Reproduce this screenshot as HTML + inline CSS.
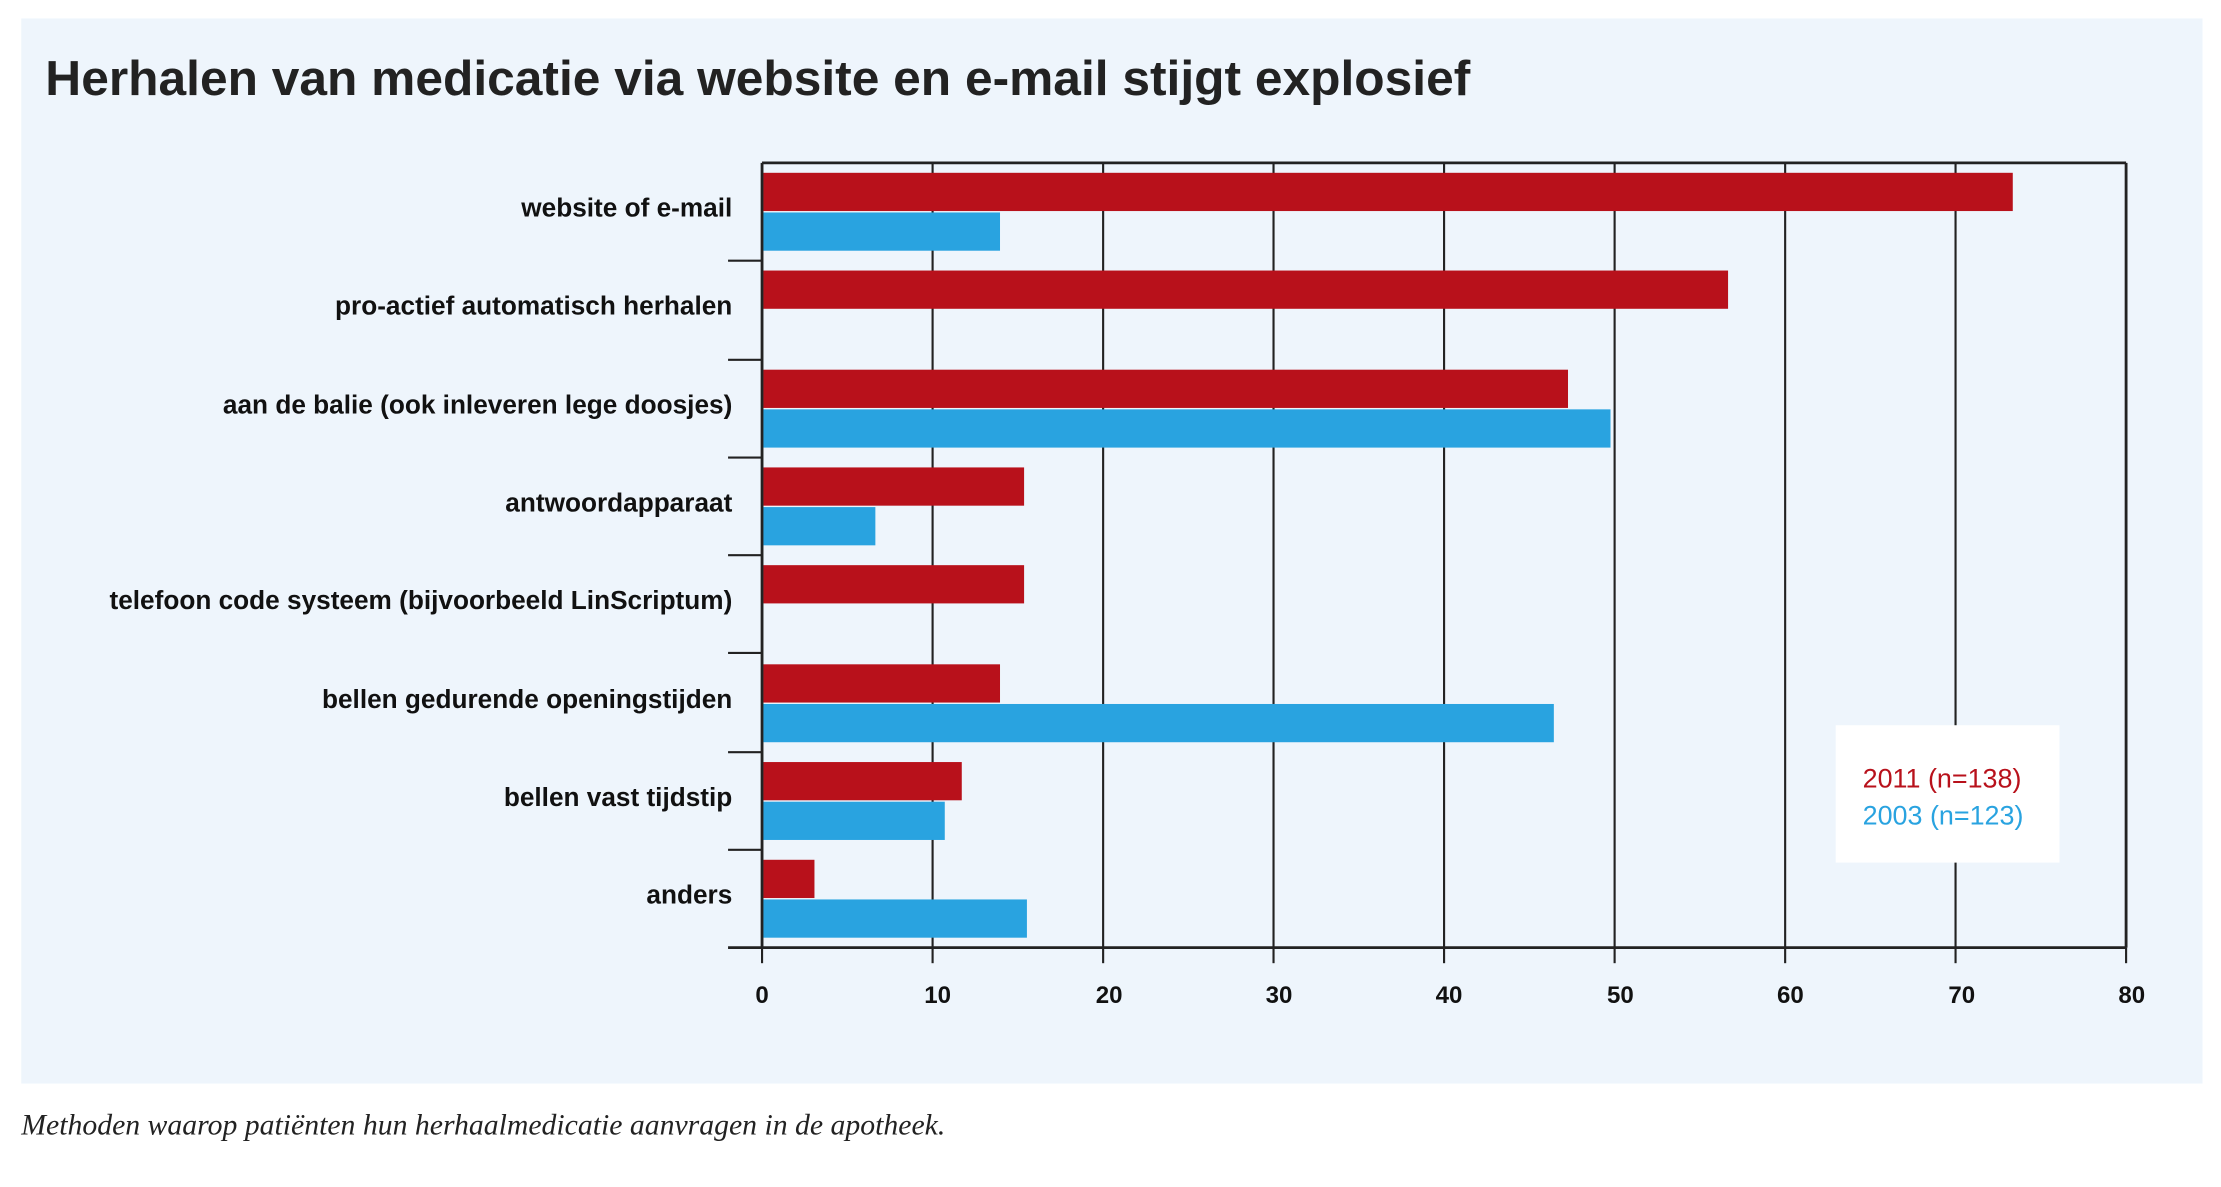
<!DOCTYPE html>
<html><head><meta charset="utf-8"><style>
html,body{margin:0;padding:0;background:#fff;}
body{width:2221px;height:1180px;overflow:hidden;position:relative;}
#w{position:absolute;left:0;top:0;width:1568px;height:833px;transform:scale(1.41645);transform-origin:0 0;font-family:"Liberation Sans",sans-serif;}
</style></head><body><div id="w">
<svg width="1568" height="833" viewBox="0 0 1568 833" xmlns="http://www.w3.org/2000/svg" font-family="Liberation Sans, sans-serif">
<rect x="15" y="13" width="1540" height="752" fill="#eef5fc"/>
<text x="32" y="67" font-size="35" font-weight="bold" fill="#222" textLength="1006" lengthAdjust="spacingAndGlyphs">Herhalen van medicatie via website en e-mail stijgt explosief</text>
<g stroke="#222" stroke-width="1.5">
<line x1="658.4" y1="115" x2="658.4" y2="669"/><line x1="778.8" y1="115" x2="778.8" y2="669"/>
<line x1="899.1" y1="115" x2="899.1" y2="669"/><line x1="1019.5" y1="115" x2="1019.5" y2="669"/>
<line x1="1139.9" y1="115" x2="1139.9" y2="669"/><line x1="1260.3" y1="115" x2="1260.3" y2="669"/>
<line x1="1380.6" y1="115" x2="1380.6" y2="669"/>
<line x1="538" y1="115" x2="1501" y2="115" stroke-width="2"/>
<line x1="1501" y1="115" x2="1501" y2="669" stroke-width="2"/>
<line x1="538" y1="115" x2="538" y2="669" stroke-width="2"/>
<line x1="514" y1="669" x2="1501" y2="669" stroke-width="2"/>
<line x1="514" y1="184" x2="538" y2="184"/><line x1="514" y1="254" x2="538" y2="254"/>
<line x1="514" y1="323" x2="538" y2="323"/><line x1="514" y1="392" x2="538" y2="392"/>
<line x1="514" y1="461" x2="538" y2="461"/><line x1="514" y1="531" x2="538" y2="531"/>
<line x1="514" y1="600" x2="538" y2="600"/>
<line x1="538" y1="669" x2="538" y2="680"/><line x1="658.4" y1="669" x2="658.4" y2="680"/>
<line x1="778.8" y1="669" x2="778.8" y2="680"/><line x1="899.1" y1="669" x2="899.1" y2="680"/>
<line x1="1019.5" y1="669" x2="1019.5" y2="680"/><line x1="1139.9" y1="669" x2="1139.9" y2="680"/>
<line x1="1260.3" y1="669" x2="1260.3" y2="680"/><line x1="1380.6" y1="669" x2="1380.6" y2="680"/>
<line x1="1501" y1="669" x2="1501" y2="680"/>
</g>
<g fill="#b8111b">
<rect x="539" y="122" width="882" height="27"/>
<rect x="539" y="191" width="681" height="27"/>
<rect x="539" y="261" width="568" height="27"/>
<rect x="539" y="330" width="184" height="27"/>
<rect x="539" y="399" width="184" height="27"/>
<rect x="539" y="469" width="167" height="27"/>
<rect x="539" y="538" width="140" height="27"/>
<rect x="539" y="607" width="36" height="27"/>
</g>
<g fill="#29a3e0">
<rect x="539" y="150" width="167" height="27"/>
<rect x="539" y="289" width="598" height="27"/>
<rect x="539" y="358" width="79" height="27"/>
<rect x="539" y="497" width="558" height="27"/>
<rect x="539" y="566" width="128" height="27"/>
<rect x="539" y="635" width="186" height="27"/>
</g>
<g font-size="18.5" font-weight="bold" fill="#111" text-anchor="end">
<text x="517" y="153">website of e-mail</text>
<text x="517" y="222">pro-actief automatisch herhalen</text>
<text x="517" y="292">aan de balie (ook inleveren lege doosjes)</text>
<text x="517" y="361">antwoordapparaat</text>
<text x="517" y="430">telefoon code systeem (bijvoorbeeld LinScriptum)</text>
<text x="517" y="500">bellen gedurende openingstijden</text>
<text x="517" y="569">bellen vast tijdstip</text>
<text x="517" y="638">anders</text>
</g>
<g font-size="17" font-weight="bold" fill="#111" text-anchor="middle">
<text x="538" y="708">0</text><text x="662" y="708">10</text><text x="783" y="708">20</text>
<text x="903" y="708">30</text><text x="1023" y="708">40</text><text x="1144" y="708">50</text>
<text x="1264" y="708">60</text><text x="1385" y="708">70</text><text x="1505" y="708">80</text>
</g>
<rect x="1296" y="512" width="158" height="97" fill="#fff"/>
<text x="1315" y="556" font-size="19" fill="#b8111b">2011 (n=138)</text>
<text x="1315" y="582" font-size="19" fill="#29a3e0">2003 (n=123)</text>
<text x="15" y="801" font-size="21" font-style="italic" font-family="Liberation Serif, serif" fill="#222">Methoden waarop patiënten hun herhaalmedicatie aanvragen in de apotheek.</text>
</svg>
</div></body></html>
